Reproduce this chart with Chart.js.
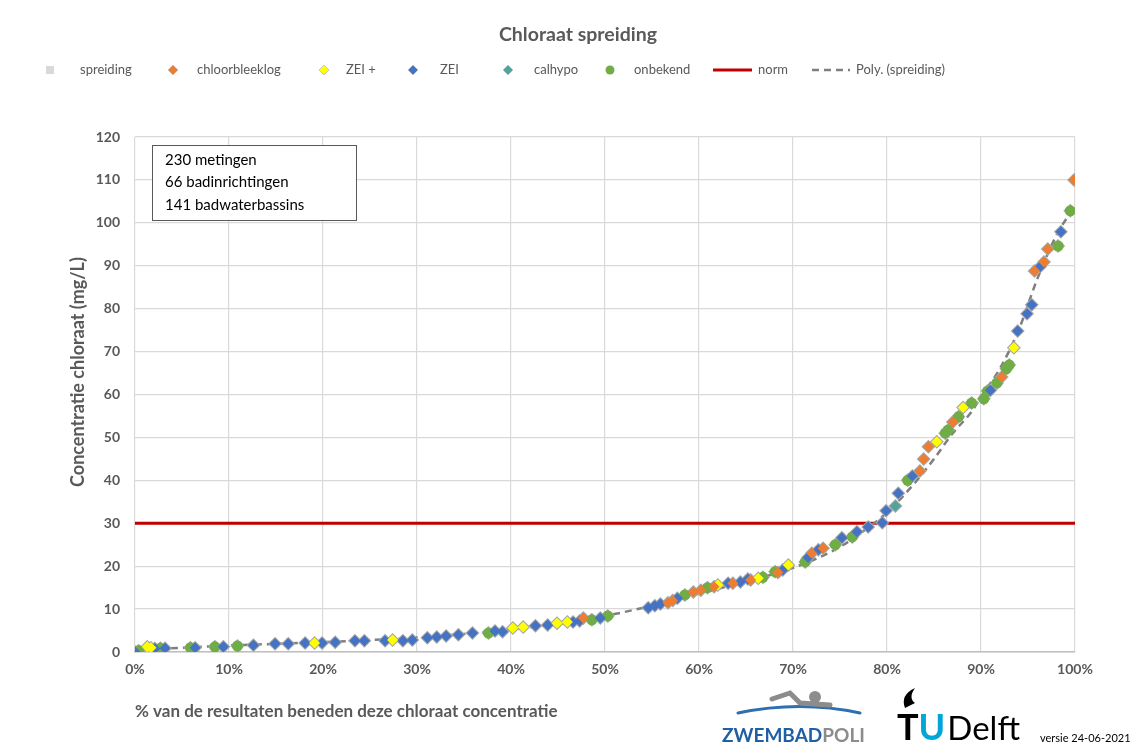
<!DOCTYPE html>
<html><head><meta charset="utf-8">
<script src="https://cdn.jsdelivr.net/npm/chart.js@4.4.1/dist/chart.umd.min.js"></script>
<style>html,body{margin:0;padding:0;background:#fff;}#wrap{position:relative;width:1138px;height:744px;}canvas{display:block;}</style>
</head><body><div id="wrap"><canvas id="c" width="1138" height="744"></canvas></div>
<script>
// ---------- texts ----------
const chartTitle = 'Chloraat spreiding';
const xAxisTitle = '% van de resultaten beneden deze chloraat concentratie';
const yAxisTitle = 'Concentratie chloraat (mg/L)';
const infoLines = ['230 metingen', '66 badinrichtingen', '141 badwaterbassins'];
const versionText = 'versie 24-06-2021';
const seriesNames = ['spreiding', 'chloorbleeklog', 'ZEI +', 'ZEI', 'calhypo', 'onbekend', 'norm', 'Poly. (spreiding)'];

// ---------- ticks ----------
const xTickValues = [0, 10, 20, 30, 40, 50, 60, 70, 80, 90, 100];
const yTickValues = [0, 10, 20, 30, 40, 50, 60, 70, 80, 90, 100, 110, 120];
const normValue = 30;

// ---------- data: [percentile %, chloraat mg/L] ----------
const chloorbleeklog = [[47.7,7.9],[56.7,11.5],[57.2,12.0],[59.4,14.0],[60.2,14.4],[61.6,15.2],[63.6,16.0],[65.5,16.8],[68.4,18.5],[72.0,23.0],[73.2,24.2],[83.5,42.2],[83.9,45.0],[84.4,47.8],[87.0,53.6],[92.2,64.1],[95.7,88.8],[96.7,90.9],[97.1,93.9],[99.9,110]];
const zeiPlus = [[1.3,1.2],[1.7,1.0],[19.1,2.1],[27.4,2.8],[40.2,5.6],[41.3,5.8],[44.9,6.7],[46.0,7.0],[62.0,15.6],[66.3,17.2],[69.5,20.3],[85.3,49.0],[88.1,57.0],[93.5,70.9]];
const zei = [[0,0],[2.1,0.8],[3.2,0.9],[6.4,1.0],[9.4,1.2],[12.6,1.6],[14.9,1.9],[16.3,1.9],[18.1,2.1],[19.9,2.1],[21.3,2.3],[23.4,2.6],[24.4,2.6],[26.6,2.6],[28.5,2.6],[29.5,2.8],[31.1,3.3],[32.1,3.5],[33.1,3.7],[34.4,4.0],[35.9,4.4],[38.3,4.9],[39.1,4.7],[42.6,6.1],[43.9,6.3],[46.6,7.0],[47.3,7.2],[49.5,7.9],[54.6,10.3],[55.3,10.8],[55.9,11.2],[57.7,12.5],[63.1,16.0],[64.4,16.3],[65.2,17.0],[68.9,19.1],[71.6,22.0],[72.7,23.8],[75.2,26.6],[76.8,28.0],[78.0,29.1],[79.5,30.1],[79.9,32.9],[81.2,37.0],[82.7,41.0],[91.0,61.0],[93.9,74.8],[94.9,78.8],[95.4,80.9],[96.3,89.8],[98.5,97.9]];
const calhypo = [[80.9,34.0]];
const onbekend = [[0.4,0.3],[2.7,0.9],[5.9,1.0],[8.5,1.2],[10.9,1.4],[37.6,4.4],[48.6,7.5],[50.3,8.4],[58.5,13.3],[60.9,15.0],[66.8,17.4],[68.1,18.7],[71.3,21.0],[74.5,25.0],[76.3,26.8],[82.2,40.0],[86.2,51.0],[86.5,51.7],[87.6,54.8],[89.0,58.0],[90.3,59.0],[90.7,60.8],[91.7,62.7],[92.7,66.0],[93.0,66.9],[98.2,94.6],[99.5,102.8]];
// polynomial trend line
const polyX = [0, 5, 10, 15, 20, 25, 30, 35, 40, 45, 50, 55, 60, 65, 70, 75, 78, 80, 83, 85, 87, 89, 90, 92, 94, 96, 98, 100];
const polyY = [0.3, 1.0, 1.5, 1.9, 2.3, 2.8, 3.4, 4.2, 5.3, 6.6, 8.4, 10.8, 13.6, 16.4, 19.6, 24.5, 29, 32.5, 39.5, 45, 51, 56, 59.5, 66, 75, 87, 97, 104];

// ---------- styles ----------
const FONT = 'Lato, "Open Sans", sans-serif';
const GREY_TEXT = '#595959';
const COLORS = {spreiding:'#a6a6a6', legendSpreiding:'#d9d9d9', chloor:'#ed7d31', zeiPlus:'#ffff00', zei:'#4472c4', calhypo:'#4ea59e', onbekend:'#70ad47', norm:'#c00000', poly:'#7f7f7f'};

const pts = arr => arr.map(p => ({x: p[0], y: p[1]}));
const allPoints = [].concat(chloorbleeklog, zeiPlus, zei, calhypo, onbekend);

const datasets = [
  {label: seriesNames[1], data: pts(chloorbleeklog), pointStyle: 'rectRot', pointRadius: 5.5, backgroundColor: COLORS.chloor, borderColor: COLORS.chloor, borderWidth: 0, order: 1, showLine: false},
  {label: seriesNames[2], data: pts(zeiPlus), pointStyle: 'rectRot', pointRadius: 5.5, backgroundColor: COLORS.zeiPlus, borderColor: COLORS.zeiPlus, borderWidth: 0, order: 1, showLine: false},
  {label: seriesNames[3], data: pts(zei), pointStyle: 'rectRot', pointRadius: 5.5, backgroundColor: COLORS.zei, borderColor: COLORS.zei, borderWidth: 0, order: 1, showLine: false},
  {label: seriesNames[4], data: pts(calhypo), pointStyle: 'rectRot', pointRadius: 5.5, backgroundColor: COLORS.calhypo, borderColor: COLORS.calhypo, borderWidth: 0, order: 1, showLine: false},
  {label: seriesNames[5], data: pts(onbekend), pointStyle: 'circle', pointRadius: 5.5, backgroundColor: COLORS.onbekend, borderColor: COLORS.onbekend, borderWidth: 0, order: 1, showLine: false},
  {label: seriesNames[0], data: pts(allPoints), pointStyle: 'rectRot', pointRadius: 7, backgroundColor: COLORS.spreiding, borderColor: COLORS.spreiding, borderWidth: 0, order: 5, showLine: false},
  {label: seriesNames[7], type: 'line', data: polyX.map((x, i) => ({x, y: polyY[i]})), borderColor: COLORS.poly, borderWidth: 2.5, borderDash: [7, 5], pointRadius: 0, fill: false, cubicInterpolationMode: 'monotone', order: 6, showLine: true},
  {label: seriesNames[6], type: 'line', data: [{x: xTickValues[0], y: normValue}, {x: xTickValues[xTickValues.length - 1], y: normValue}], borderColor: COLORS.norm, borderWidth: 3, pointRadius: 0, fill: false, order: 7, showLine: true}
];

// ---------- decorations (title, legend, info box, axis title, logos) ----------
const legendItems = [
  {kind: 'square', color: COLORS.legendSpreiding, mx: 50, tx: 80, text: seriesNames[0]},
  {kind: 'diamond', color: COLORS.chloor, mx: 173, tx: 197, text: seriesNames[1]},
  {kind: 'diamond', color: COLORS.zeiPlus, mx: 324, tx: 346, text: seriesNames[2]},
  {kind: 'diamond', color: COLORS.zei, mx: 413, tx: 440, text: seriesNames[3]},
  {kind: 'diamond', color: COLORS.calhypo, mx: 508, tx: 534, text: seriesNames[4]},
  {kind: 'circle', color: COLORS.onbekend, mx: 610, tx: 634, text: seriesNames[5]},
  {kind: 'line', color: COLORS.norm, x1: 713, x2: 752, tx: 758, text: seriesNames[6]},
  {kind: 'dash', color: COLORS.poly, x1: 812, x2: 850, tx: 856, text: seriesNames[7]}
];

const decor = {
  id: 'decor',
  afterDraw(chart) {
    const ctx = chart.ctx, ca = chart.chartArea;
    ctx.save();
    // title
    ctx.fillStyle = GREY_TEXT;
    ctx.font = 'bold 19.5px ' + FONT;
    ctx.textAlign = 'center'; ctx.textBaseline = 'middle';
    ctx.fillText(chartTitle, 578, 35);
    // legend
    const ly = 70;
    ctx.font = '13px ' + FONT; ctx.textAlign = 'left';
    legendItems.forEach(it => {
      ctx.fillStyle = it.color; ctx.strokeStyle = it.color;
      if (it.kind === 'square') ctx.fillRect(it.mx - 4, ly - 4, 8, 8);
      else if (it.kind === 'diamond') { ctx.beginPath(); ctx.moveTo(it.mx, ly - 5); ctx.lineTo(it.mx + 5, ly); ctx.lineTo(it.mx, ly + 5); ctx.lineTo(it.mx - 5, ly); ctx.closePath(); ctx.fill(); ctx.strokeStyle = '#bfbfbf'; ctx.lineWidth = 0.8; ctx.stroke(); }
      else if (it.kind === 'circle') { ctx.beginPath(); ctx.arc(it.mx, ly, 4.5, 0, Math.PI * 2); ctx.fill(); }
      else { ctx.lineWidth = it.kind === 'line' ? 3 : 2.5; ctx.setLineDash(it.kind === 'dash' ? [7, 5] : []); ctx.beginPath(); ctx.moveTo(it.x1, ly); ctx.lineTo(it.x2, ly); ctx.stroke(); ctx.setLineDash([]); }
      ctx.fillStyle = GREY_TEXT; ctx.fillText(it.text, it.tx, ly);
    });
    // info box
    const bx = ca.left + 17, by = ca.top + 8, bw = 204, bh = 75;
    ctx.fillStyle = '#fff'; ctx.fillRect(bx, by, bw, bh);
    ctx.strokeStyle = '#595959'; ctx.lineWidth = 1; ctx.strokeRect(bx + 0.5, by + 0.5, bw, bh);
    ctx.fillStyle = '#000'; ctx.font = '15px ' + FONT; ctx.textAlign = 'left';
    infoLines.forEach((t, i) => ctx.fillText(t, bx + 13, by + 15 + i * 22.5));
    // y axis title
    ctx.save();
    ctx.translate(78, 372); ctx.rotate(-Math.PI / 2);
    ctx.fillStyle = GREY_TEXT; ctx.font = 'bold 18px ' + FONT; ctx.textAlign = 'center';
    ctx.fillText(yAxisTitle, 0, 0);
    ctx.restore();
    // swimmer logo
    ctx.strokeStyle = '#2d6fb0'; ctx.lineWidth = 3; ctx.lineCap = 'round';
    ctx.beginPath(); ctx.moveTo(738, 713); ctx.quadraticCurveTo(800, 700, 860, 713); ctx.stroke();
    ctx.fillStyle = '#8c8c8c';
    ctx.beginPath(); ctx.arc(815, 697, 6, 0, Math.PI * 2); ctx.fill();
    ctx.strokeStyle = '#8c8c8c'; ctx.lineWidth = 5;
    ctx.beginPath(); ctx.moveTo(772, 699); ctx.lineTo(790, 693); ctx.lineTo(800, 703); ctx.lineTo(830, 705); ctx.stroke();
    ctx.textBaseline = 'alphabetic';
    ctx.font = 'bold 19px ' + FONT; ctx.fillStyle = '#1f5fa3';
    ctx.fillText('ZWEMBAD', 722, 742);
    const w1 = ctx.measureText('ZWEMBAD').width;
    ctx.fillStyle = '#8c8c8c';
    ctx.fillText('POLI', 722 + w1, 742);
    // TU Delft logo
    ctx.fillStyle = '#000'; ctx.font = 'bold 36px ' + FONT;
    ctx.fillText('T', 897, 740);
    const wt = ctx.measureText('T').width;
    ctx.fillStyle = '#00a6d6'; ctx.fillText('U', 897 + wt, 740);
    const wu = ctx.measureText('U').width;
    ctx.fillStyle = '#000'; ctx.font = '33px ' + FONT;
    ctx.fillText('Delft', 897 + wt + wu + 2, 740);
    ctx.beginPath(); ctx.moveTo(905, 708); ctx.quadraticCurveTo(900, 695, 915, 688); ctx.quadraticCurveTo(908, 698, 915, 703); ctx.closePath(); ctx.fill();
    // version
    ctx.font = '11px ' + FONT; ctx.fillStyle = '#000';
    ctx.fillText(versionText, 1040, 742);
    ctx.restore();
  }
};

new Chart(document.getElementById('c'), {
  type: 'scatter',
  data: {datasets},
  options: {
    responsive: false, animation: false,
    layout: {padding: {top: 137, right: 63, bottom: 19, left: 60}},
    plugins: {legend: {display: false}, title: {display: false}, tooltip: {enabled: false}},
    scales: {
      x: {
        type: 'linear', min: xTickValues[0], max: xTickValues[xTickValues.length - 1],
        afterBuildTicks: s => { s.ticks = xTickValues.map(v => ({value: v})); },
        afterFit: s => { s.height = 73; },
        ticks: {callback: v => v + '%', color: GREY_TEXT, font: {family: FONT, size: 14, weight: 'bold'}, padding: 9, maxRotation: 0},
        grid: {color: '#d9d9d9', lineWidth: 1.2, drawTicks: false},
        border: {display: true, color: '#bfbfbf', width: 1.5},
        title: {display: true, text: xAxisTitle, align: 'start', color: GREY_TEXT, font: {family: FONT, size: 17, weight: 'bold'}, padding: {top: 4, bottom: 3}}
      },
      y: {
        type: 'linear', min: yTickValues[0], max: yTickValues[yTickValues.length - 1],
        afterBuildTicks: s => { s.ticks = yTickValues.map(v => ({value: v})); },
        afterFit: s => { s.width = 75; },
        ticks: {color: GREY_TEXT, font: {family: FONT, size: 14, weight: 'bold'}, padding: 15},
        grid: {color: '#d9d9d9', lineWidth: 1.2, drawTicks: false},
        border: {display: false}
      }
    }
  },
  plugins: [decor]
});
</script></body></html>
